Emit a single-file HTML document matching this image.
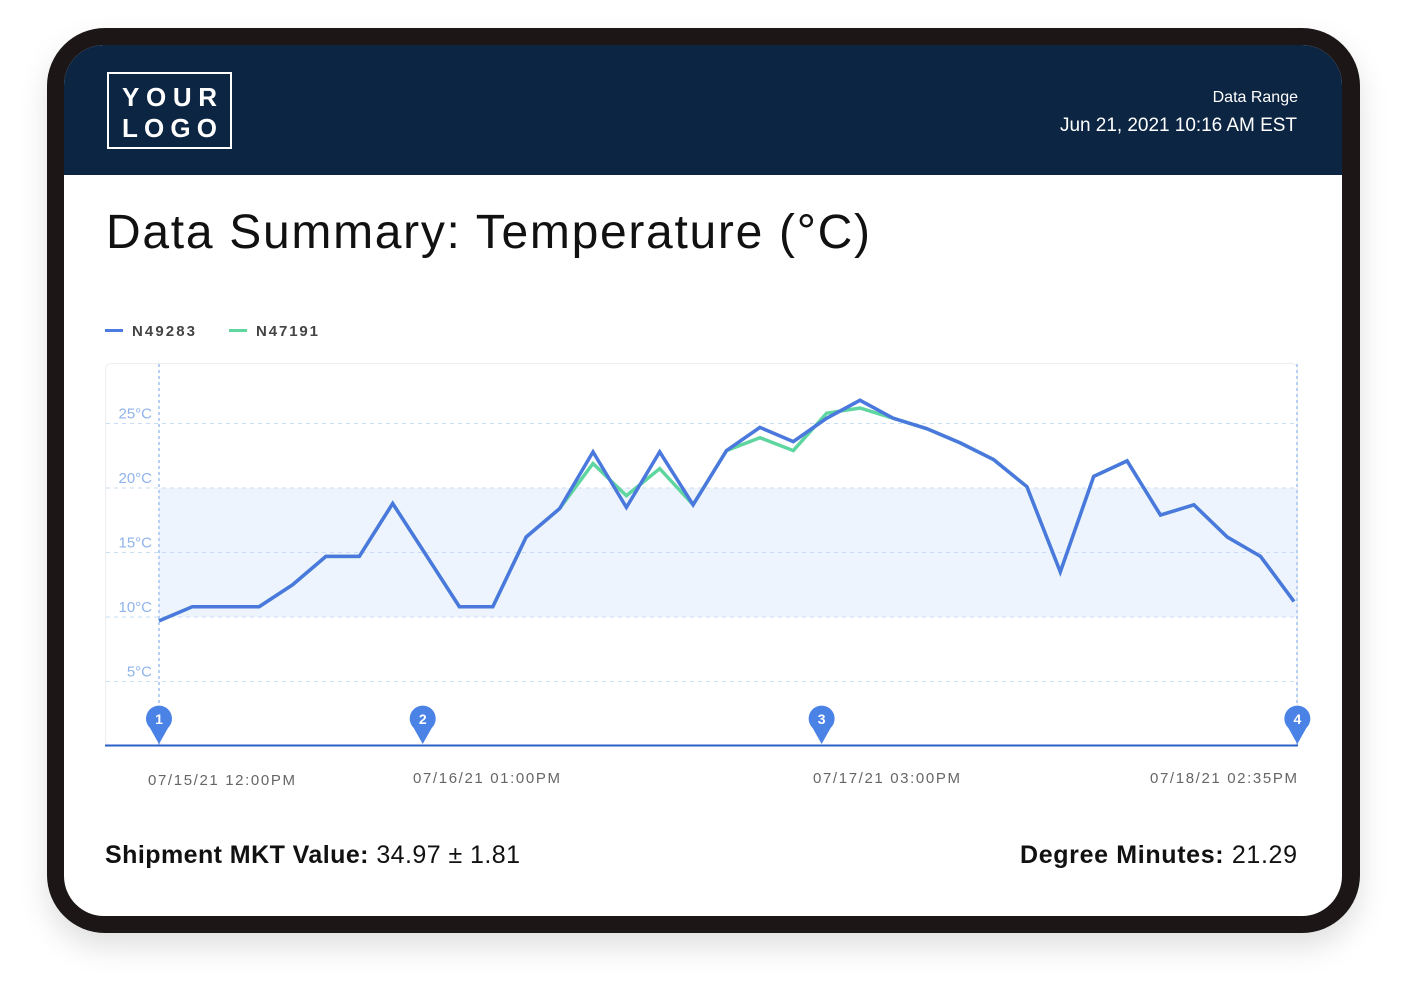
<!DOCTYPE html>
<html><head><meta charset="utf-8"><style>
html,body{margin:0;padding:0;background:#fff;width:1406px;height:996px;overflow:hidden;font-family:"Liberation Sans",sans-serif}
</style></head><body>
<svg id="svg" width="1406" height="996" viewBox="0 0 1406 996" xmlns="http://www.w3.org/2000/svg">
<defs><filter id="sh" x="-10%" y="-10%" width="120%" height="130%"><feDropShadow dx="0" dy="14" stdDeviation="14" flood-color="#000" flood-opacity="0.12"/></filter>
<clipPath id="scr"><rect x="64" y="45" width="1278" height="871" rx="40"/></clipPath></defs>
<rect x="47" y="28" width="1313" height="905" rx="58" fill="#1a1617" filter="url(#sh)"/>
<g clip-path="url(#scr)">
<rect x="64" y="45" width="1278" height="871" fill="#fff"/>
<rect x="64" y="45" width="1278" height="130" fill="#0c2542"/>
</g>
<g>
<rect x="108" y="73" width="123" height="75" fill="none" stroke="#fff" stroke-width="2"/>
<text x="122" y="106" fill="#fff" font-size="26" font-weight="bold" textLength="95" lengthAdjust="spacing">YOUR</text>
<text x="122" y="137" fill="#fff" font-size="26" font-weight="bold" textLength="95" lengthAdjust="spacing">LOGO</text>
</g>
<text x="1298" y="102" fill="#fff" font-size="16" text-anchor="end">Data Range</text>
<text x="1297" y="131" fill="#fff" font-size="19" text-anchor="end" textLength="237">Jun 21, 2021 10:16 AM EST</text>
<text x="106" y="248" fill="#111" font-size="48" textLength="764">Data Summary: Temperature (°C)</text>
<g>
<rect x="105" y="329" width="18" height="3" fill="#4a7be0"/>
<text x="132" y="336" font-size="15" font-weight="bold" fill="#444" textLength="63">N49283</text>
<rect x="229" y="329" width="18" height="3" fill="#5fd6a0"/>
<text x="256" y="336" font-size="15" font-weight="bold" fill="#444" textLength="62">N47191</text>
</g>
<rect x="105.5" y="363.5" width="1192" height="382" rx="6" fill="none" stroke="#eee"/>
<g id="chart"></g>
<text x="105" y="863" font-size="25" fill="#111" textLength="415"><tspan font-weight="bold">Shipment MKT Value:</tspan> 34.97 ± 1.81</text>
<text x="1020" y="863" font-size="25" fill="#111" textLength="277"><tspan font-weight="bold">Degree Minutes:</tspan> 21.29</text>
</svg>
<script>
const seriesA = [9.7,10.8,10.8,10.8,12.5,14.7,14.7,18.8,14.8,10.8,10.8,16.2,18.4,22.8,18.5,22.8,18.7,22.9,24.7,23.6,25.4,26.8,25.4,24.6,23.5,22.2,20.1,13.5,20.9,22.1,17.9,18.7,16.2,14.7,11.2];
const seriesB = [9.7,10.8,10.8,10.8,12.5,14.7,14.7,18.8,14.8,10.8,10.8,16.2,18.4,21.9,19.4,21.5,18.7,22.9,23.9,22.9,25.8,26.2,25.4,24.6,23.5,22.2,20.1,13.5,20.9,22.1,17.9,18.7,16.2,14.7,11.2];
const yTicks = [5,10,15,20,25];
const bandRange = [10,20];
const markerIdx = [0,7.9,19.85,34.1];
const markerLabels = ['1','2','3','4'];
const dateLabels = ['07/15/21 12:00PM','07/16/21 01:00PM','07/17/21 03:00PM','07/18/21 02:35PM'];
const NS='http://www.w3.org/2000/svg';
const g=document.getElementById('chart');
const x0=159,x1=1294,n=seriesA.length;
const X=i=>x0+(x1-x0)*i/(n-1);
const Y=v=>617-(v-10)*12.9;
function mk(t,a){const e=document.createElementNS(NS,t);for(const k in a)e.setAttribute(k,a[k]);g.appendChild(e);return e;}
let band=mk('rect',{x:x0,y:Y(bandRange[1]),width:1297-x0,height:Y(bandRange[0])-Y(bandRange[1]),fill:'#eef4fd'});


yTicks.forEach(v=>{
 let l=mk('line',{x1:106,x2:1297,y1:Y(v),y2:Y(v),stroke:'#c9dcf5','stroke-dasharray':'4 4'});
 
 
 let t=mk('text',{x:152,y:Y(v)-5,'text-anchor':'end','font-size':15,fill:'#8fb3ea'});
 t.textContent=v+'°C';
 
 
});
[159,1297].forEach((x,k)=>{
 let l=mk('line',{x1:x,x2:x,y1:364,y2:745,stroke:'#b8d1f3','stroke-width':2,'stroke-dasharray':'3 3'});
 
 
});
function line(s,c,name){let d=s.map((v,i)=>(i?'L':'M')+X(i).toFixed(1)+' '+Y(v).toFixed(1)).join(' ');
 let p=mk('path',{d:d,fill:'none',stroke:c,'stroke-width':3.5,'stroke-linejoin':'miter'});
 
 }
line(seriesB,'#5fd6a0','series-n47191');
line(seriesA,'#4a78dd','series-n49283');
let ax=mk('line',{x1:105,x2:1298,y1:745.5,y2:745.5,stroke:'#2d5fc9','stroke-width':2});


const labelX=[148,413,813,1150];
markerIdx.forEach((idx,k)=>{
 const x=X(idx);
 let p=mk('path',{d:`M${x} 744 L${x-9} 728 A13 13 0 1 1 ${x+9} 728 Z`,fill:'#4a82e6'});
 
 
 let t=mk('text',{x:x,y:724,'text-anchor':'middle','font-size':14,'font-weight':'bold',fill:'#fff'});
 t.textContent=markerLabels[k];
 
 
 let d=mk('text',{x:labelX[k],y:k==0?785:783,'font-size':15,fill:'#666',textLength:147});
 d.textContent=dateLabels[k];
 
 
});
</script>
</body></html>
